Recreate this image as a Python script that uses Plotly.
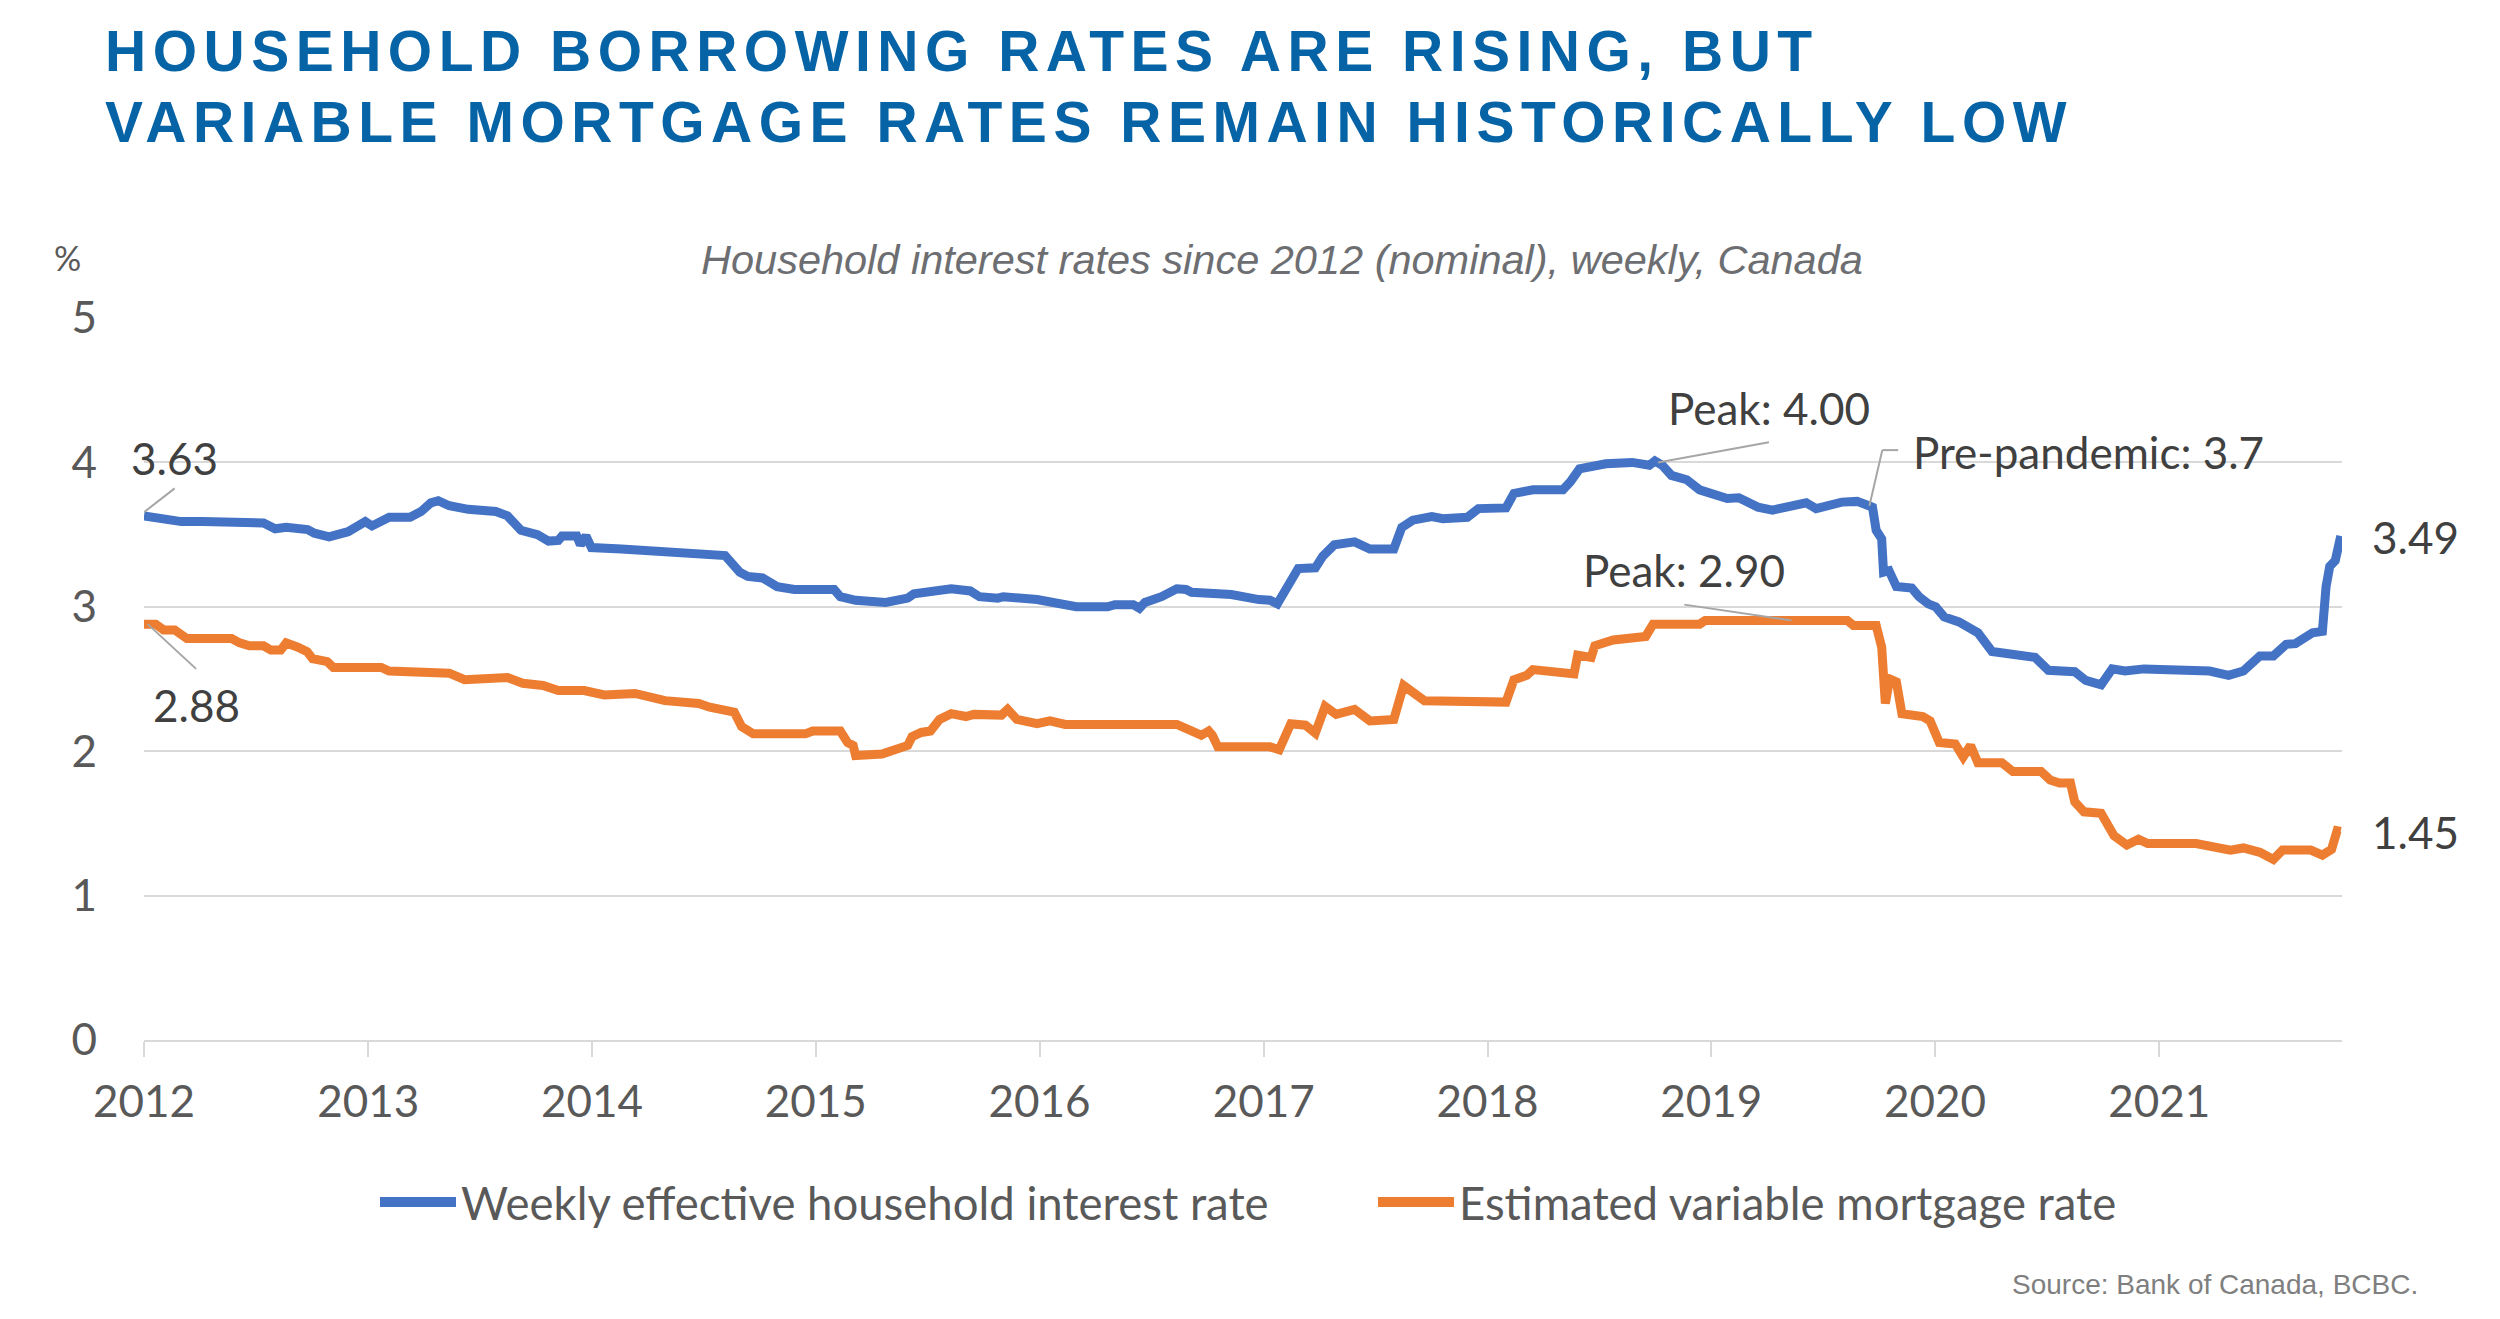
import plotly.graph_objects as go

# weekly series (values in %)
blue_dates = [
    "2012-01-01", "2012-02-02", "2012-03-02", "2012-04-05", "2012-06-05", "2012-07-14", "2012-08-02",
    "2012-08-20", "2012-09-24", "2012-10-05", "2012-10-29", "2012-11-29", "2012-12-27",
    "2013-01-07", "2013-02-04", "2013-03-10", "2013-03-28", "2013-04-13", "2013-04-25", "2013-05-13",
    "2013-06-13", "2013-07-28", "2013-08-16", "2013-09-07", "2013-10-04", "2013-10-22", "2013-11-07",
    "2013-11-13", "2013-12-07", "2013-12-13", "2013-12-22", "2013-12-31",
    "2014-02-18", "2014-04-06", "2014-05-15", "2014-06-24", "2014-08-06", "2014-08-30", "2014-09-12",
    "2014-10-06", "2014-10-30", "2014-11-27",
    "2015-01-31", "2015-02-10", "2015-03-07", "2015-04-25", "2015-05-31", "2015-06-10", "2015-07-16",
    "2015-08-10", "2015-09-10", "2015-09-25", "2015-10-25", "2015-11-03", "2015-12-28",
    "2016-03-01", "2016-04-21", "2016-05-03", "2016-06-02", "2016-06-12", "2016-06-21", "2016-07-18",
    "2016-08-12", "2016-08-27", "2016-09-05", "2016-10-09", "2016-11-09", "2016-12-24",
    "2017-01-11", "2017-01-23", "2017-02-07", "2017-02-26", "2017-03-26", "2017-04-07", "2017-04-26",
    "2017-05-29", "2017-06-23", "2017-08-01", "2017-08-14", "2017-09-01", "2017-10-02", "2017-10-20",
    "2017-11-29", "2017-12-17",
    "2018-01-31", "2018-02-13", "2018-03-16", "2018-05-04", "2018-05-16", "2018-05-31", "2018-07-13",
    "2018-08-25", "2018-09-22", "2018-10-01", "2018-10-13", "2018-10-28", "2018-11-22", "2018-12-13",
    "2019-01-27", "2019-02-15", "2019-03-18", "2019-04-11", "2019-06-05", "2019-06-21", "2019-08-02",
    "2019-08-27", "2019-09-15", "2019-09-21", "2019-09-27", "2019-10-06", "2019-10-09", "2019-10-18",
    "2019-10-30", "2019-11-24", "2019-12-06", "2019-12-21", "2020-01-02",
    "2020-01-16", "2020-02-09", "2020-03-11", "2020-04-03", "2020-05-01", "2020-06-12", "2020-07-04",
    "2020-08-16", "2020-09-03", "2020-09-28", "2020-10-16", "2020-11-06", "2020-12-07",
    "2021-03-02", "2021-03-24", "2021-04-24", "2021-05-18", "2021-06-14", "2021-07-06", "2021-07-27",
    "2021-08-11", "2021-09-08", "2021-09-24", "2021-09-30", "2021-10-06", "2021-10-15", "2021-10-24",
]
blue_rates = [
    3.63, 3.61, 3.59, 3.59, 3.59, 3.58, 3.54,
    3.55, 3.535, 3.51, 3.485, 3.52, 3.59,
    3.56, 3.62, 3.62, 3.66, 3.72, 3.735, 3.70,
    3.675, 3.66, 3.63, 3.53, 3.50, 3.455, 3.46,
    3.49, 3.49, 3.43, 3.49, 3.41,
    3.40, 3.39, 3.37, 3.36, 3.355, 3.24, 3.21,
    3.20, 3.14, 3.12,
    3.12, 3.07, 3.045, 3.03, 3.06, 3.09, 3.12,
    3.125, 3.11, 3.07, 3.06, 3.07, 3.05,
    3.00, 3.00, 3.015, 3.015, 2.99, 3.03, 3.07,
    3.125, 3.12, 3.10, 3.10, 3.085, 3.05,
    3.045, 3.02, 3.125, 3.265, 3.27, 3.35, 3.43,
    3.45, 3.40, 3.40, 3.55, 3.60, 3.625, 3.61,
    3.62, 3.68,
    3.685, 3.785, 3.81, 3.81, 3.865, 3.955, 3.99,
    4.00, 3.98, 4.01, 3.98, 3.91, 3.88, 3.81,
    3.75, 3.755, 3.69, 3.67, 3.72, 3.68, 3.725,
    3.73, 3.70, 3.69, 3.53, 3.47, 3.24, 3.25,
    3.14, 3.13, 3.07, 3.02, 3.00,
    2.93, 2.895, 2.82, 2.69, 2.67, 2.65, 2.56,
    2.55, 2.49, 2.46, 2.57, 2.555, 2.57,
    2.57, 2.555, 2.525, 2.555, 2.66, 2.66, 2.74,
    2.745, 2.82, 2.83, 3.14, 3.28, 3.32, 3.49,
]

orange_dates = [
    "2012-01-01", "2012-01-20", "2012-02-02", "2012-02-20", "2012-03-11", "2012-05-23", "2012-06-05",
    "2012-06-21", "2012-07-14", "2012-07-26", "2012-08-11", "2012-08-20", "2012-09-08", "2012-09-23",
    "2012-10-02", "2012-10-26", "2012-11-05",
    "2013-01-22", "2013-02-04", "2013-03-16", "2013-03-28", "2013-05-13", "2013-06-07", "2013-07-28",
    "2013-08-16", "2013-09-10", "2013-10-13", "2013-11-07", "2013-12-19",
    "2014-01-21", "2014-03-12", "2014-04-30", "2014-06-24", "2014-07-12", "2014-08-09", "2014-08-21",
    "2014-09-02", "2014-09-21", "2014-12-15", "2014-12-27",
    "2015-02-10", "2015-02-22", "2015-03-03", "2015-03-07", "2015-04-19", "2015-05-31", "2015-06-07",
    "2015-06-22", "2015-07-07", "2015-07-22", "2015-08-10", "2015-09-03", "2015-09-16", "2015-10-31",
    "2015-11-10", "2015-11-25", "2015-12-28",
    "2016-01-18", "2016-02-12", "2016-08-12", "2016-09-05", "2016-09-21", "2016-10-03", "2016-10-09",
    "2016-10-18", "2016-11-09", "2016-12-21",
    "2017-01-11", "2017-01-26", "2017-02-14", "2017-03-10", "2017-03-26", "2017-04-11", "2017-04-29",
    "2017-05-29", "2017-06-23", "2017-08-01", "2017-08-17", "2017-09-20", "2017-11-11",
    "2018-01-31", "2018-02-13", "2018-03-06", "2018-03-16", "2018-05-22", "2018-05-28", "2018-06-19",
    "2018-06-25", "2018-07-25", "2018-09-16", "2018-09-28", "2018-12-13", "2018-12-22",
    "2019-08-11", "2019-08-21", "2019-09-27", "2019-10-06", "2019-10-12", "2019-10-19", "2019-10-30",
    "2019-11-08", "2019-12-12", "2019-12-24", "2020-01-08",
    "2020-02-03", "2020-02-16", "2020-02-28", "2020-03-11", "2020-04-19", "2020-05-07", "2020-06-22",
    "2020-07-07", "2020-07-22", "2020-08-09", "2020-08-16", "2020-08-31", "2020-09-28", "2020-10-19",
    "2020-11-09", "2020-11-28", "2020-12-13",
    "2021-03-02", "2021-03-30", "2021-04-27", "2021-05-18", "2021-06-14", "2021-07-06", "2021-07-21",
    "2021-09-05", "2021-09-24", "2021-10-09", "2021-10-18", "2021-10-24",
]
orange_rates = [
    2.88, 2.88, 2.84, 2.84, 2.78, 2.78, 2.75,
    2.73, 2.73, 2.70, 2.70, 2.75, 2.72, 2.69,
    2.64, 2.62, 2.58,
    2.58, 2.555, 2.55, 2.56, 2.54, 2.495, 2.51,
    2.51, 2.47, 2.455, 2.42, 2.42,
    2.39, 2.40, 2.35, 2.33, 2.305, 2.29, 2.27,
    2.17, 2.12, 2.12, 2.14,
    2.14, 2.06, 2.04, 1.97, 1.98, 2.04, 2.10,
    2.13, 2.14, 2.22, 2.26, 2.24, 2.255, 2.25,
    2.29, 2.22, 2.19,
    2.21, 2.185, 2.185, 2.14, 2.11, 2.14, 2.11,
    2.03, 2.03, 2.02,
    2.03, 2.01, 2.19, 2.18, 2.125, 2.31, 2.255,
    2.29, 2.21, 2.22, 2.455, 2.35, 2.345,
    2.34, 2.495, 2.525, 2.565, 2.535, 2.665, 2.65,
    2.73, 2.77, 2.795, 2.88, 2.88, 2.905,
    2.905, 2.87, 2.87, 2.72, 2.33, 2.50, 2.48,
    2.26, 2.24, 2.21, 2.06,
    2.05, 1.96, 2.04, 1.92, 1.92, 1.86, 1.86,
    1.80, 1.78, 1.78, 1.65, 1.58, 1.57, 1.415,
    1.35, 1.39, 1.36,
    1.36, 1.33, 1.315, 1.33, 1.30, 1.25, 1.315,
    1.315, 1.28, 1.32, 1.45, 1.445,
]

year_ticks = ["%d-01-01" % y for y in range(2012, 2022)]
year_labels = [str(y) for y in range(2012, 2022)]

# callouts: (text, pixel x, pixel y, anchor)
callouts = [
    ("3.63", 174, 458, "center"),
    ("2.88", 196, 705, "center"),
    ("Peak: 4.00", 1769, 408, "center"),
    ("Pre-pandemic: 3.7", 1911, 452, "left"),
    ("Peak: 2.90", 1684, 570, "center"),
    ("3.49", 2370, 537, "left"),
    ("1.45", 2370, 832, "left"),
]
# leader lines in data coords
leaders = [
    ("2012-01-01", 3.655, "2012-02-20", 3.82),
    ("2012-01-07", 2.88, "2012-03-26", 2.57),
    ("2018-10-06", 4.00, "2019-04-05", 4.14),
    ("2019-09-16", 3.70, "2019-10-07", 4.085),
    ("2019-10-07", 4.085, "2019-11-02", 4.085),
    ("2018-11-18", 3.015, "2019-05-12", 2.906),
]

BLUE = "#4472C4"
ORANGE = "#ED7D31"
GRID = "#D9D9D9"
TICK_GREY = "#595959"
LABEL_GREY = "#404040"

# plot area in pixels
L, R, T, B = 144, 2342, 318, 1040
W, H = R - L, B - T


def at(x, y):
    return dict(xref="paper", yref="paper", x=(x - L) / W, y=(B - y) / H)


fig = go.Figure()
fig.add_trace(go.Scatter(x=blue_dates, y=blue_rates, mode="lines",
                         name="Weekly effective household interest rate",
                         line=dict(color=BLUE, width=9)))
fig.add_trace(go.Scatter(x=orange_dates, y=orange_rates, mode="lines",
                         name="Estimated variable mortgage rate",
                         line=dict(color=ORANGE, width=9)))

shapes = []
for x0, y0, x1, y1 in leaders:
    shapes.append(dict(type="line", xref="x", yref="y", x0=x0, y0=y0, x1=x1, y1=y1,
                       line=dict(color="#A6A6A6", width=2)))

annotations = []
for text, x, y, anchor in callouts:
    annotations.append(dict(text=text, showarrow=False, xanchor=anchor, yanchor="middle",
                            font=dict(family="Lato", size=44, color=LABEL_GREY), **at(x, y)))

# title, subtitle, unit, source
title_style = dict(family="Liberation Sans", size=57, color="#0563A6", weight="bold")
annotations.append(dict(text='<span style="letter-spacing:6.5px">HOUSEHOLD BORROWING RATES ARE RISING, BUT</span>',
                        showarrow=False, xanchor="left", yanchor="middle", font=title_style, **at(103, 51)))
annotations.append(dict(text='<span style="letter-spacing:6.5px">VARIABLE MORTGAGE RATES REMAIN HISTORICALLY LOW</span>',
                        showarrow=False, xanchor="left", yanchor="middle", font=title_style, **at(103, 122)))
annotations.append(dict(text="Household interest rates since 2012 (nominal), weekly, Canada",
                        showarrow=False, xanchor="center", yanchor="middle",
                        font=dict(family="Liberation Sans", size=41.5, color="#6D6E71", style="italic"),
                        **at(1282, 259)))
annotations.append(dict(text="%", showarrow=False, xanchor="center", yanchor="middle",
                        font=dict(family="Lato", size=34, color=TICK_GREY), **at(67, 257)))
annotations.append(dict(text="Source: Bank of Canada, BCBC.", showarrow=False, xanchor="right", yanchor="middle",
                        font=dict(family="Liberation Sans", size=28, color="#7F7F7F"), **at(2420, 1284)))

# legend drawn by hand so the line samples match the original length
legend_items = [(fig.data[0].name, BLUE, 380, 456), (fig.data[1].name, ORANGE, 1378, 1454)]
for name, color, x0, x1 in legend_items:
    p0, p1 = at(x0, 1202), at(x1, 1202)
    shapes.append(dict(type="line", xref="paper", yref="paper", x0=p0["x"], y0=p0["y"], x1=p1["x"], y1=p1["y"],
                       line=dict(color=color, width=10)))
    annotations.append(dict(text=name, showarrow=False, xanchor="left", yanchor="middle",
                            font=dict(family="Lato", size=45.5, color=TICK_GREY), **at(x1 + 3, 1202)))

fig.update_layout(
    width=2500, height=1319,
    margin=dict(l=L, r=2500 - R, t=T, b=1319 - B, pad=0),
    paper_bgcolor="white", plot_bgcolor="white",
    showlegend=False,
    shapes=shapes,
    annotations=annotations,
    xaxis=dict(type="date", range=["2012-01-01", "2021-10-26"],
               tickvals=year_ticks, ticktext=year_labels,
               showgrid=False, zeroline=False,
               showline=True, linecolor=GRID, linewidth=2,
               ticks="outside", ticklen=15, tickwidth=2, tickcolor=GRID,
               ticklabelstandoff=7,
               tickfont=dict(family="Lato", size=44, color=TICK_GREY)),
    yaxis=dict(range=[0, 5], tickvals=[0, 1, 2, 3, 4, 5],
               showgrid=True, gridcolor=GRID, gridwidth=2,
               zeroline=False, showline=False, ticks="",
               ticklabelstandoff=46,
               tickfont=dict(family="Lato", size=44, color=TICK_GREY)),
)

fig.write_html("out.html", config={"displayModeBar": False},
               post_script="document.body.style.margin='0';document.body.style.overflow='hidden';")
